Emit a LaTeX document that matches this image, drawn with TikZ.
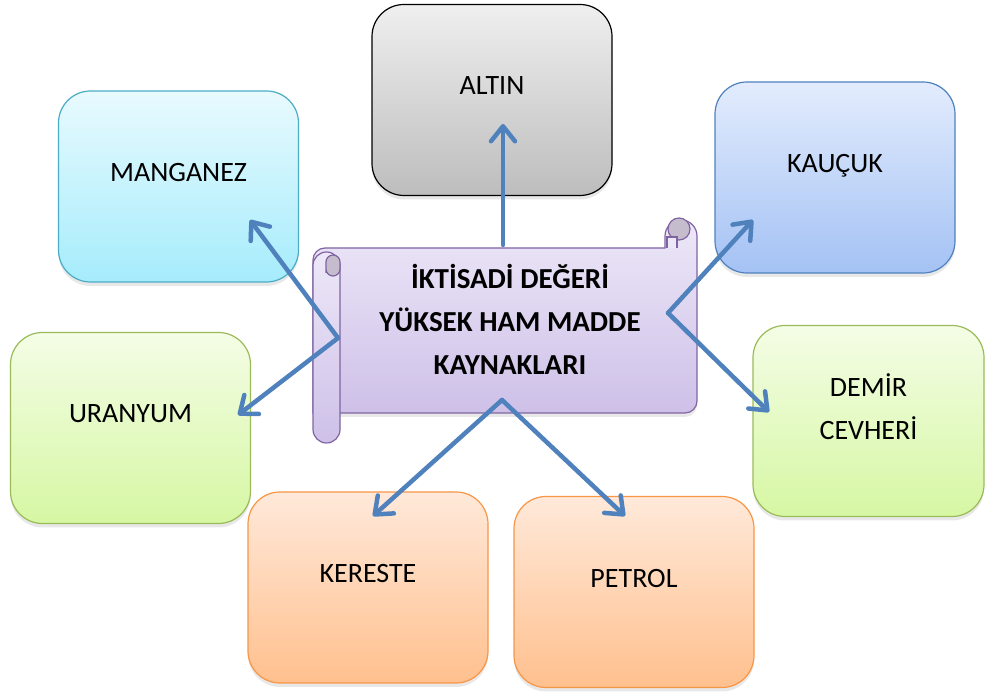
\documentclass[tikz,border=0pt]{standalone}
\usepackage{fontspec}
\setmainfont{Carlito}
\usetikzlibrary{arrows.meta,shadows}

\definecolor{arrowblue}{HTML}{4F81BD}
\definecolor{altinline}{HTML}{000000}
\definecolor{altintop}{HTML}{EFEFEF}
\definecolor{altinbot}{HTML}{BDBDBD}
\definecolor{cyanline}{HTML}{4BACC6}
\definecolor{cyantop}{HTML}{E8FAFE}
\definecolor{cyanbot}{HTML}{A6ECFC}
\definecolor{blueline}{HTML}{4F81BD}
\definecolor{bluetop}{HTML}{E3ECFD}
\definecolor{bluebot}{HTML}{A4C2F4}
\definecolor{greenline}{HTML}{9BBB59}
\definecolor{greentop}{HTML}{F4FDE6}
\definecolor{greenbot}{HTML}{D6F7A3}
\definecolor{orangeline}{HTML}{F79646}
\definecolor{orangetop}{HTML}{FFE9DA}
\definecolor{orangebot}{HTML}{FFC08E}
\definecolor{scrollline}{HTML}{8064A2}
\definecolor{scrolltop}{HTML}{EDE8F8}
\definecolor{scrollbot}{HTML}{CEC0E8}
\definecolor{curlfill}{HTML}{C5BCCD}

\begin{document}
\begin{tikzpicture}[
x=1pt, y=1pt,
res/.style={
  draw,
  rectangle,
  rounded corners=32pt,
  line width=1.2pt,
  minimum width=240pt,
  minimum height=191pt,
  align=center,
  text depth=28pt,
  font=\fontsize{28}{43}\selectfont,
  drop shadow={shadow xshift=0pt,shadow yshift=-4pt,opacity=.18}
  },
gold/.style={res, draw=altinline, top color=altintop, bottom color=altinbot},
cyanres/.style={res, draw=cyanline, top color=cyantop, bottom color=cyanbot},
blueres/.style={res, draw=blueline, top color=bluetop, bottom color=bluebot},
greenres/.style={res, draw=greenline, top color=greentop, bottom color=greenbot},
orangeres/.style={res, draw=orangeline, top color=orangetop, bottom color=orangebot},
sheet/.style={
  draw=scrollline,
  line width=1.2pt,
  top color=scrolltop,
  bottom color=scrollbot
  },
curl/.style={draw=scrollline, line width=1.2pt, fill=curlfill},
notch/.style={draw=scrollline, line width=1.2pt, fill=scrolltop},
title/.style={
  align=center,
  font=\fontsize{29}{43}\selectfont\bfseries
  },
link/.style={draw=arrowblue, line width=4.5pt, line cap=round, ->},
>={Straight Barb[length=15pt,width=24pt,line cap=round,line join=round]}
]

\useasboundingbox (0,0) rectangle (985,693);

% resource boxes
\node[gold] (altin) at (492,593) {ALTIN};
\node[cyanres] (manganez) at (178.5,506.5) {MANGANEZ};
\node[blueres] (kaucuk) at (835,515.5) {KAUÇUK};
\node[greenres] (uranyum) at (130.5,265) {URANYUM};
\node[greenres, minimum width=231pt] (demir) at (868.5,272) {DEMİR\\CEVHERİ};
\node[orangeres] (kereste) at (368,105.5) {KERESTE};
\node[orangeres] (petrol) at (634,101) {PETROL};

% scroll
\draw[sheet, drop shadow={shadow xshift=0pt,shadow yshift=-4pt,opacity=.18}]
  (325,445) -- (665,445) -- (665,457)
  arc[start angle=180,end angle=0,radius=16] -- (697,292)
  arc[start angle=0,end angle=-90,radius=12] -- (313,280) -- (313,433)
  arc[start angle=180,end angle=90,radius=12] -- cycle;
\draw[curl] (679,464) circle[radius=11];
\draw[notch] (667,445) -- (667,456) -- (677,456) -- (677,445);
\draw[sheet, rounded corners=13.5pt] (313,250) rectangle (340,441);
\draw[curl] (326,420) -- (326,431) arc[start angle=180,end angle=0,radius=7]
  -- (340,424) arc[start angle=0,end angle=-180,radius=7] -- cycle;
\node[title] (title) at (510,374) {İKTİSADİ DEĞERİ\\YÜKSEK HAM MADDE\\KAYNAKLARI};

% arrow ends
\coordinate (hub-t) at (503,448);
\coordinate (hub-l) at (338,355);
\coordinate (hub-r) at (668,380);
\coordinate (hub-b) at (502,293);
\coordinate (altin-in) at (503,569);
\coordinate (manganez-in) at (250,473);
\coordinate (uranyum-in) at (238,278);
\coordinate (kaucuk-in) at (753,473);
\coordinate (demir-in) at (769,281);
\coordinate (kereste-in) at (373,177);
\coordinate (petrol-in) at (625,177);

\draw[link] (hub-t) -- (altin-in);
\draw[link] (hub-l) -- (manganez-in);
\draw[link] (hub-l) -- (uranyum-in);
\draw[link] (hub-r) -- (kaucuk-in);
\draw[link] (hub-r) -- (demir-in);
\draw[link] (hub-b) -- (kereste-in);
\draw[link] (hub-b) -- (petrol-in);
\end{tikzpicture}
\end{document}
